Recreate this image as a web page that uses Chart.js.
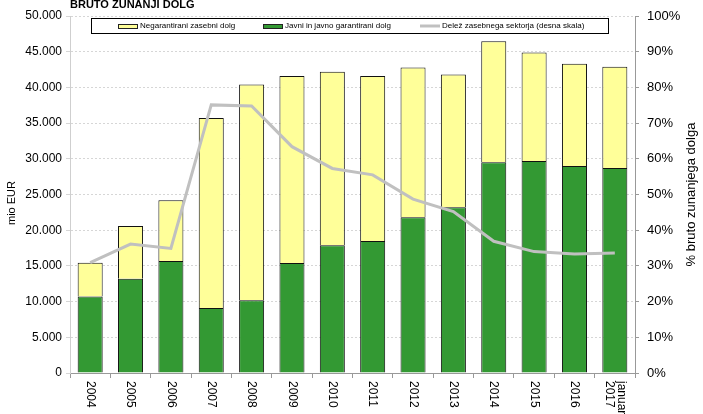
<!DOCTYPE html>
<html><head><meta charset="utf-8">
<script src="https://cdn.jsdelivr.net/npm/chart.js@4"></script>
<style>html,body{margin:0;padding:0;background:#fff}</style>
</head><body>
<canvas id="c" width="703" height="414"></canvas>
<script>
const categories = ['2004','2005','2006','2007','2008','2009','2010','2011','2012','2013','2014','2015','2016',['januar','2017']];
const javniDolg = [10700,13200,15700,9100,10200,15400,17900,18500,21800,23200,29500,29700,29000,28700];
const zasebniDolg = [4750,7400,8500,26600,30200,26200,24300,23100,21000,18600,16950,15200,14300,14200];
const delezZasebni = [30.9,36.1,34.9,75.1,74.8,63.4,57.3,55.5,48.7,45.2,36.9,34.0,33.3,33.6];
const chartTitle = 'BRUTO ZUNANJI DOLG';
const leftTitle = 'mio EUR';
const rightTitle = '% bruto zunanjega dolga';
const seriesNames = ['Negarantirani zasebni dolg','Javni in javno garantirani dolg','Delež zasebnega sektorja (desna skala)'];

const FONT = 'Arial, "Liberation Sans", sans-serif';

const customDraw = {
  id: 'customDraw',
  afterDraw(chart) {
    const ctx = chart.ctx;
    const x = chart.scales.x, ca = chart.chartArea;
    ctx.save();
    // title
    ctx.fillStyle = '#000';
    ctx.font = 'bold 11px ' + FONT;
    ctx.textAlign = 'left'; ctx.textBaseline = 'alphabetic';
    ctx.fillText(chartTitle, 70, 8);
    // left title
    ctx.save();
    ctx.font = '11px ' + FONT;
    ctx.textAlign = 'center'; ctx.textBaseline = 'middle';
    ctx.translate(12, 203);
    ctx.rotate(-Math.PI / 2);
    ctx.fillText(leftTitle, 0, 0);
    ctx.restore();
    // x labels rotated clockwise
    ctx.font = '12px ' + FONT;
    ctx.textAlign = 'left';
    ctx.textBaseline = 'middle';
    categories.forEach((lab, i) => {
      const px = x.getPixelForValue(i);
      const lines = Array.isArray(lab) ? lab : [lab];
      ctx.save();
      ctx.translate(px, ca.bottom + 8);
      ctx.rotate(Math.PI / 2);
      lines.forEach((l, j) => {
        const off = (j - (lines.length - 1) / 2) * 12;
        ctx.fillText(l, 0, off);
      });
      ctx.restore();
    });
    // right title (bottom-to-top)
    ctx.save();
    ctx.font = '13px ' + FONT;
    ctx.textAlign = 'center';
    ctx.translate(691, (ca.top + ca.bottom) / 2);
    ctx.rotate(-Math.PI / 2);
    ctx.fillText(rightTitle, 0, 0);
    ctx.restore();
    // legend
    const lx = 91, ly = 18, lw = 517, lh = 15;
    ctx.fillStyle = '#fff';
    ctx.fillRect(lx, ly, lw, lh);
    ctx.strokeStyle = '#000'; ctx.lineWidth = 1;
    ctx.strokeRect(lx + 0.5, ly + 0.5, lw, lh);
    const cy = ly + lh / 2 + 0.5;
    ctx.font = '8px ' + FONT;
    ctx.textAlign = 'left'; ctx.textBaseline = 'middle';
    const items = [
      {x: 118, type: 'box', color: '#FFFF99'},
      {x: 263, type: 'box', color: '#339933'},
      {x: 420, type: 'line', color: '#C0C0C0'}
    ];
    items.forEach((it, i) => {
      if (it.type === 'box') {
        ctx.fillStyle = it.color;
        ctx.fillRect(it.x, cy - 2, 19, 4);
        ctx.strokeStyle = '#222';
        ctx.strokeRect(it.x + 0.5, cy - 2 + 0.5, 19, 4);
      } else {
        ctx.strokeStyle = it.color; ctx.lineWidth = 3;
        ctx.beginPath(); ctx.moveTo(it.x, cy); ctx.lineTo(it.x + 20, cy); ctx.stroke();
        ctx.lineWidth = 1;
      }
      ctx.fillStyle = '#000';
      ctx.fillText(seriesNames[i], it.x + 22, cy);
    });
    ctx.restore();
  }
};

new Chart(document.getElementById('c'), {
  data: {
    labels: categories,
    datasets: [
      {type: 'line', label: seriesNames[2], data: delezZasebni, yAxisID: 'y1',
       borderColor: '#C0C0C0', borderWidth: 3, pointRadius: 0, tension: 0, order: 0},
      {type: 'bar', label: seriesNames[1], data: javniDolg, yAxisID: 'y', stack: 's',
       backgroundColor: '#339933', borderColor: '#111', borderWidth: 1, order: 1,
       categoryPercentage: 1, barPercentage: 0.62},
      {type: 'bar', label: seriesNames[0], data: zasebniDolg, yAxisID: 'y', stack: 's',
       backgroundColor: '#FFFF99', borderColor: '#111', borderWidth: 1, order: 1,
       categoryPercentage: 1, barPercentage: 0.62}
    ]
  },
  options: {
    responsive: false,
    animation: false,
    layout: {padding: {top: 16, left: 0, right: 0, bottom: 0}},
    plugins: {legend: {display: false}, tooltip: {enabled: false}, title: {display: false}},
    scales: {
      x: {
        stacked: true,
        offset: true,
        ticks: {display: false},
        grid: {offset: true, drawOnChartArea: false, drawTicks: true, tickLength: 5, color: '#999'},
        border: {color: '#999'},
        afterFit(s) { s.height = 41; }
      },
      y: {
        position: 'left', stacked: true, min: 0, max: 50000,
        ticks: {stepSize: 5000, color: '#000', font: {size: 12, family: FONT}, padding: 4,
          callback: v => v === 0 ? '0' : v.toLocaleString('de-DE')},
        grid: {color: '#d6d6d6', tickLength: 4},
        border: {color: '#cfcfcf', dash: [2, 2]},
        afterFit(s) { s.width = 70; }
      },
      y1: {
        position: 'right', min: 0, max: 100,
        ticks: {stepSize: 10, color: '#000', font: {size: 13, family: FONT}, padding: 8,
          callback: v => v + '%'},
        grid: {drawOnChartArea: false, color: '#999', tickLength: 4},
        border: {color: '#999'},
        afterFit(s) { s.width = 68; }
      }
    }
  },
  plugins: [customDraw]
});
</script>
</body></html>
